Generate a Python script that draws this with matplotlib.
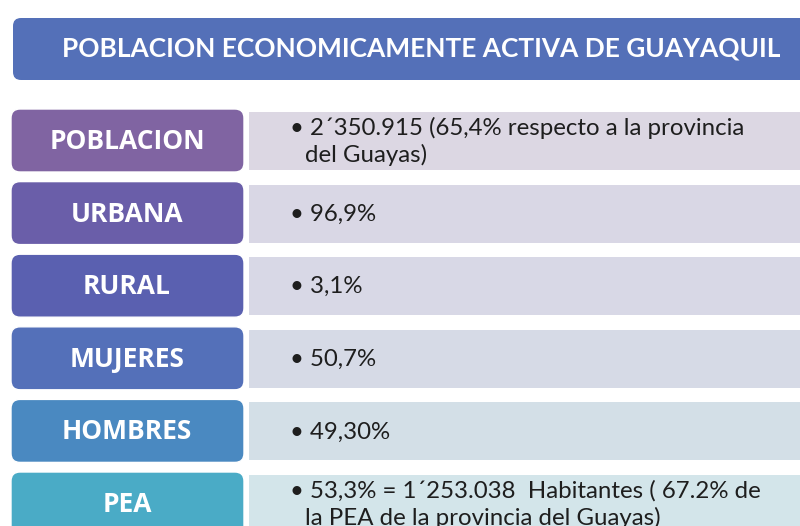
import matplotlib
matplotlib.use("Agg")
import matplotlib.pyplot as plt
from matplotlib.patches import FancyBboxPatch

title = "POBLACION ECONOMICAMENTE ACTIVA DE GUAYAQUIL"
labels = ["POBLACION", "URBANA", "RURAL", "MUJERES", "HOMBRES", "PEA"]
details = [
    ["• 2´350.915 (65,4% respecto a la provincia", "del Guayas)"],
    ["• 96,9%"],
    ["• 3,1%"],
    ["• 50,7%"],
    ["• 49,30%"],
    ["• 53,3% = 1´253.038  Habitantes ( 67.2% de", "la PEA de la provincia del Guayas)"],
]
label_colors = ["#8064a2", "#6a5ea9", "#5a60b0", "#5470b9", "#4a89c1", "#4aabc6"]
detail_colors = ["#dcd7e3", "#d9d7e5", "#d8d8e6", "#d6dae6", "#d3dfe7", "#d3e5ea"]
title_color = "#5470b8"

W, H = 800, 526
fig = plt.figure(figsize=(8, 5.26), dpi=100)
ax = fig.add_axes([0, 0, 1, 1])
ax.set_xlim(0, W)
ax.set_ylim(H, 0)
ax.axis("off")

renderer = fig.canvas.get_renderer()

def fit(t, width):
    fs = t.get_fontsize()
    for _ in range(3):
        w = t.get_window_extent(renderer).width
        fs = fs * width / w
        t.set_fontsize(fs)

# title box
ax.add_patch(FancyBboxPatch((13, 18), 830, 62, boxstyle="round,pad=0,rounding_size=8",
                            fc=title_color, ec="none"))
tt = ax.text(421, 49, title, color="white", fontweight="bold", family="Lato",
             ha="center", va="center", fontsize=18)
fit(tt, 716)

top0, step, hgt = 109, 72.6, 63
for i, (lab, det) in enumerate(zip(labels, details)):
    top = top0 + i * step
    ax.add_patch(FancyBboxPatch((11, top), 233, hgt, boxstyle="round,pad=0,rounding_size=9",
                                fc=label_colors[i], ec="white", lw=1))
    ax.add_patch(FancyBboxPatch((249, top + 3), 580, hgt - 5, boxstyle="square,pad=0",
                                fc=detail_colors[i], ec="none"))
    lt = ax.text(127, top + hgt / 2 + 1, lab, color="white", fontweight="bold",
                 family="Open Sans", ha="center", va="center", fontsize=16)
    if i == 0:
        fit(lt, 156)
        lfs = lt.get_fontsize()
    else:
        lt.set_fontsize(lfs)
    if len(det) == 1:
        ys = [top + hgt / 2 + 1]
    else:
        ys = [top + 19, top + 46]
    for j, (line, y) in enumerate(zip(det, ys)):
        x = 290 if j == 0 else 305
        dt = ax.text(x, y, line, color="#1e1e1e", family="Lato", ha="left",
                     va="center", fontsize=14)
        if i == 0 and j == 0:
            fit(dt, 456)
            dfs = dt.get_fontsize()
        else:
            dt.set_fontsize(dfs)

fig.savefig("out.png", dpi=100, facecolor="white")
